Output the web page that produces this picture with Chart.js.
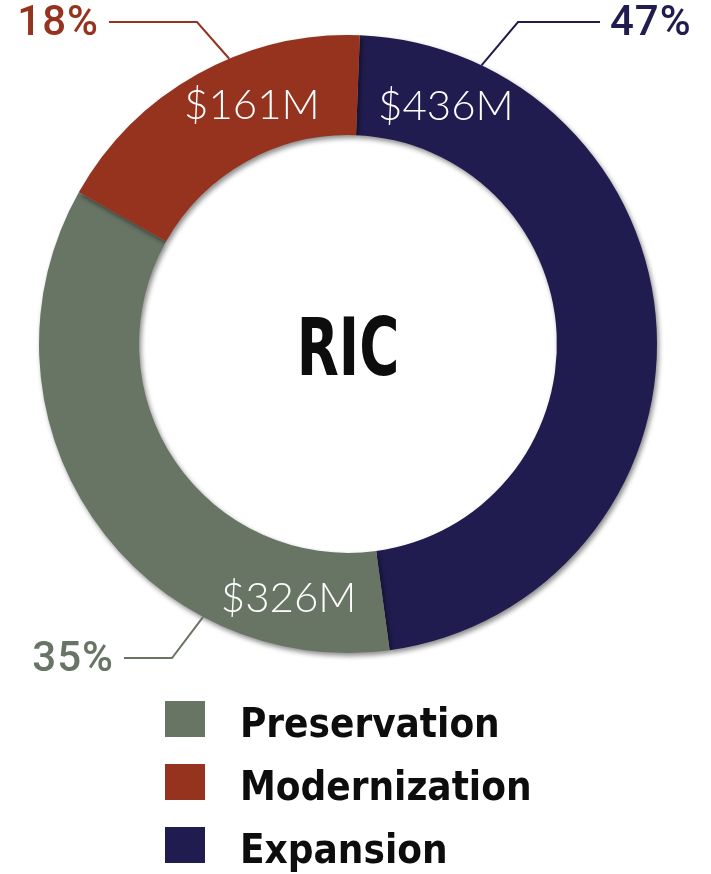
<!DOCTYPE html>
<html>
<head>
<meta charset="utf-8">
<script src="https://cdn.jsdelivr.net/npm/chart.js@4/dist/chart.umd.min.js"></script>
<style>
  body { margin: 0; background: #fff; }
  canvas { display: block; }
</style>
</head>
<body>
<canvas id="chart" width="711" height="874"></canvas>
<script>
// drawing order around the ring, clockwise from the top
const categories = ['Expansion', 'Preservation', 'Modernization'];
const amounts = [436, 326, 161];          // $M
const percentLabels = [47, 35, 18];
const legendOrder = ['Preservation', 'Modernization', 'Expansion'];
const centerTitle = 'RIC';

const colors = {
    Expansion: '#201c4f',
    Preservation: '#687565',
    Modernization: '#95331f'
};

// where each money label and leader line sits on its arc (degrees from an arc edge)
const labelSpots = {
    Expansion:     { edge: 'start', deg: 20,  leader: 23.4, elbow: [518, 22], text: [610, 22], align: 'left' },
    Preservation:  { edge: 'start', deg: 21,  leader: 35.7, elbow: [172, 658], text: [114, 658], align: 'right' },
    Modernization: { edge: 'end',   deg: -24, leader: -24.8, elbow: [197, 22], text: [99, 22], align: 'right' }
};

const rad = d => d * Math.PI / 180;

function spotAngle(arc, edge, deg){
    const base = edge === 'start' ? arc.startAngle : arc.endAngle;
    return base + rad(deg);
}

const ringShadow = {
    id: 'ringShadow',
    beforeDatasetsDraw(chart){
        const ctx = chart.ctx;
        ctx.save();
        ctx.shadowColor = 'rgba(0, 0, 0, 0.45)';
        ctx.shadowBlur = 5;
        ctx.shadowOffsetX = 2;
        ctx.shadowOffsetY = 3;
    },
    afterDatasetsDraw(chart){
        chart.ctx.restore();
    }
};

const ringLabels = {
    id: 'ringLabels',
    afterDraw(chart){
        const ctx = chart.ctx;
        const arcs = chart.getDatasetMeta(0).data;

        arcs.forEach((arc, i) => {
            const name = categories[i];
            const spot = labelSpots[name];
            const midR = (arc.innerRadius + arc.outerRadius) / 2;

            // money amount inside the ring
            const a = spotAngle(arc, spot.edge, spot.deg);
            ctx.save();
            ctx.font = '300 42px Lato, Roboto, sans-serif';
            ctx.fillStyle = '#ffffff';
            ctx.textAlign = 'center';
            ctx.textBaseline = 'middle';
            ctx.fillText('$' + amounts[i] + 'M', arc.x + midR * Math.cos(a), arc.y + midR * Math.sin(a) + 2);
            ctx.restore();

            // leader line out to the percentage
            const la = spotAngle(arc, spot.edge, spot.leader);
            const sx = arc.x + arc.outerRadius * Math.cos(la);
            const sy = arc.y + arc.outerRadius * Math.sin(la);
            const lineEnd = spot.align === 'left' ? spot.text[0] - 10 : spot.text[0] + 10;
            ctx.save();
            ctx.strokeStyle = colors[name];
            ctx.lineWidth = 2;
            ctx.beginPath();
            ctx.moveTo(sx, sy);
            ctx.lineTo(spot.elbow[0], spot.elbow[1]);
            ctx.lineTo(lineEnd, spot.text[1]);
            ctx.stroke();

            ctx.font = '500 42px Roboto, sans-serif';
            ctx.letterSpacing = '1px';
            ctx.fillStyle = colors[name];
            ctx.textAlign = spot.align;
            ctx.textBaseline = 'middle';
            ctx.fillText(percentLabels[i] + '%', spot.text[0], spot.text[1] + 2);
            ctx.restore();
        });

        // title in the hole
        const c = arcs[0];
        ctx.save();
        ctx.translate(c.x, c.y + 10);
        ctx.scale(0.76, 1);
        ctx.font = 'bold 80px "DejaVu Sans Condensed", "DejaVu Sans", sans-serif';
        ctx.fillStyle = '#0d0d0d';
        ctx.textAlign = 'center';
        ctx.textBaseline = 'middle';
        ctx.fillText(centerTitle, 0, 0);
        ctx.restore();

        // legend, one entry per row
        ctx.save();
        ctx.font = 'bold 40px "DejaVu Sans Condensed", "DejaVu Sans", sans-serif';
        ctx.textBaseline = 'alphabetic';
        ctx.textAlign = 'left';
        legendOrder.forEach((name, row) => {
            const top = 701 + row * 63;
            ctx.fillStyle = colors[name];
            ctx.fillRect(165, top, 40, 36);
            ctx.fillStyle = '#0d0d0d';
            ctx.fillText(name, 240, top + 36);
        });
        ctx.restore();
    }
};

new Chart('chart', {
    type: 'doughnut',
    data: {
        labels: categories,
        datasets: [{
            data: amounts,
            backgroundColor: categories.map(n => colors[n]),
            borderWidth: 0,
            hoverOffset: 0,
            offset: 0
        }]
    },
    options: {
        responsive: false,
        animation: false,
        rotation: 2.2,
        cutout: '67.6%',
        layout: {
            padding: { left: 39, top: 35, right: 54, bottom: 221 }
        },
        plugins: {
            legend: { display: false },
            tooltip: { enabled: false }
        }
    },
    plugins: [ringShadow, ringLabels]
});
</script>
</body>
</html>
